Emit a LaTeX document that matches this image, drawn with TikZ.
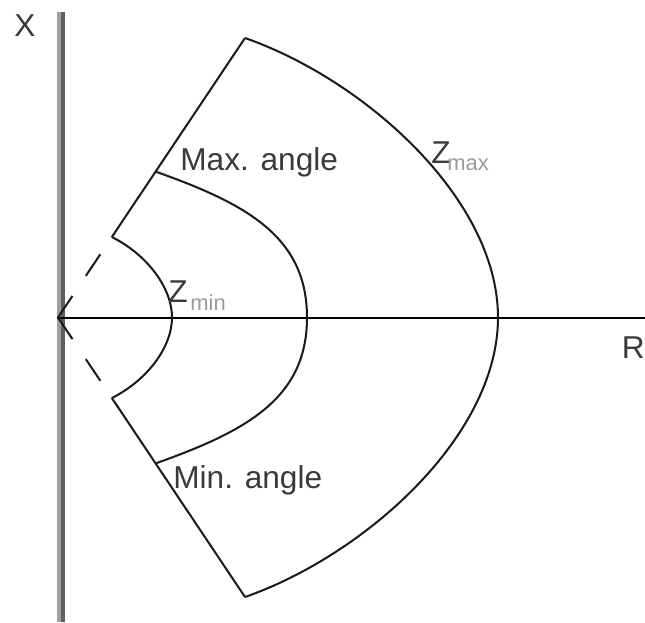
\documentclass[tikz,border=0pt]{standalone}
\usepackage{fontspec}
\setmainfont{Liberation Sans}
\usetikzlibrary{calc}
\definecolor{ink}{HTML}{1A1A1A}
\definecolor{txt}{HTML}{3A3A3A}
\definecolor{subtxt}{HTML}{9A9A9A}
\definecolor{axlight}{HTML}{A0A0A0}
\definecolor{axdark}{HTML}{606060}
\begin{document}
\begin{tikzpicture}[x=0.02cm,y=-0.02cm,
  curve/.style={draw=ink,line width=1.15pt},
  dashray/.style={draw=ink,line width=1.15pt,dash pattern=on 14.8pt off 13.7pt},
  lbl/.style={inner sep=0pt,anchor=base west,text=txt,font=\fontsize{18}{20}\selectfont},
  sublbl/.style={inner sep=0pt,anchor=base west,text=subtxt,font=\fontsize{12.5}{14}\selectfont}]
\useasboundingbox (0,0) rectangle (645,622);
% coordinates
\coordinate (O) at (58,317.5);
\coordinate (A) at (245,38);
\coordinate (B) at (245,597);
\coordinate (I1) at ($(O)!0.288!(A)$);
\coordinate (I2) at ($(O)!0.288!(B)$);
\coordinate (M1) at ($(O)!0.522!(A)$);
\coordinate (M2) at ($(O)!0.522!(B)$);
\coordinate (Hs) at (57,318);
\coordinate (He) at (645,318);
% vertical X axis
\fill[axlight] (57,12) rectangle (61,622);
\fill[axdark] (61,12) rectangle (65,622);
% horizontal R axis
\draw[black,line width=1.4pt] (Hs) -- (He);
% rays
\draw[dashray] (O) -- (I1);
\draw[dashray] (O) -- (I2);
\draw[curve] (I1) -- (A);
\draw[curve] (I2) -- (B);
% arcs
\draw[curve] (I1) .. controls (146,254) and (172,287) .. (172,317.5)
  .. controls (172,348) and (146,381) .. (I2);
\draw[curve] (M1) .. controls (247,204) and (307,237) .. (307,317.5)
  .. controls (307,398) and (247,431) .. (M2);
\draw[curve] (A) .. controls (365,80) and (498,199) .. (498,317.5)
  .. controls (498,436) and (365,555) .. (B);
% labels
\node[lbl] (xl) at (14,36) {X};
\node[lbl] (rl) at (621.5,358) {R};
\node[lbl] (maxa) at (180,170) {Max. angle};
\node[lbl] (mina) at (173,488) {Min. angle};
\node[lbl] (zmin) at (168,302) {Z};
\node[sublbl] (zmins) at (190,310) {min};
\node[lbl] (zmax) at (431,163) {Z};
\node[sublbl] (zmaxs) at (447,170) {max};
\end{tikzpicture}
\end{document}
